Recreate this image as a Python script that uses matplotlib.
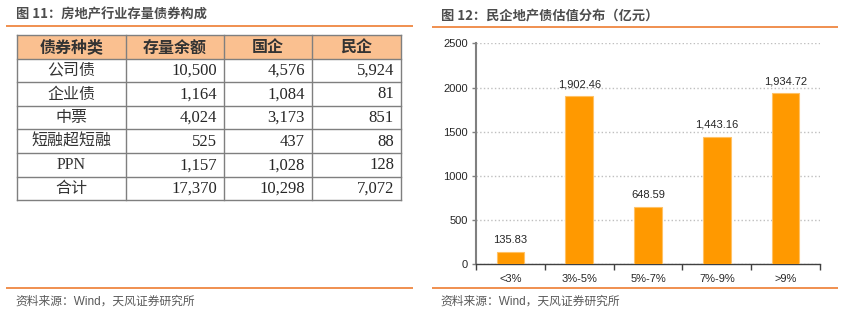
import matplotlib.pyplot as plt
from matplotlib.patches import Rectangle

# table data (left panel)
table_header = ['债券种类', '存量余额', '国企', '民企']
bond_types = ['公司债', '企业债', '中票', '短融超短融', 'PPN', '合计']
balance = ['10,500', '1,164', '4,024', '525', '1,157', '17,370']
soe = ['4,576', '1,084', '3,173', '437', '1,028', '10,298']
private = ['5,924', '81', '851', '88', '128', '7,072']

# bar data (right panel)
ranges = ['<3%', '3%-5%', '5%-7%', '7%-9%', '>9%']
values = [135.83, 1902.46, 648.59, 1443.16, 1934.72]

orange_line = '#ED7D31'
title_col = '#4D4D4D'
cjk = ['Noto Sans CJK SC']
serif_mix = ['Liberation Serif', 'Noto Sans CJK SC']
sans_mix = ['Liberation Sans', 'Noto Sans CJK SC']

W, H = 845, 313
fig = plt.figure(figsize=(W / 100, H / 100), dpi=100)

# background axes in pixel coords for titles, lines and the table
bg = fig.add_axes([0, 0, 1, 1])
bg.set_xlim(0, W)
bg.set_ylim(H, 0)
bg.axis('off')

bg.text(16, 14, '图 11：房地产行业存量债券构成', family=cjk, weight='bold',
        fontsize=9.5, color=title_col, va='center', ha='left')
bg.text(441, 15, '图 12：民企地产债估值分布（亿元）', family=cjk, weight='bold',
        fontsize=9.5, color=title_col, va='center', ha='left')
for x0, x1, y in [(6, 413, 26), (432, 838, 27), (6, 413, 288), (432, 838, 288)]:
    bg.plot([x0, x1], [y, y], color=orange_line, lw=1.2, solid_capstyle='butt')
for x in (15, 440):
    bg.text(x, 302, '资料来源：Wind，天风证券研究所', family=sans_mix,
            fontsize=8.5, color='#595959', va='center', ha='left')

# table
col_edges = [17, 126, 224, 312, 401]
top, row_h = 35, 23.6
n_rows = len(bond_types) + 1
grid_col = '#7F7F7F'

for j in range(4):
    bg.add_patch(Rectangle((col_edges[j], top), col_edges[j + 1] - col_edges[j], row_h,
                           facecolor='#FAC090', edgecolor='none'))
    bg.text((col_edges[j] + col_edges[j + 1]) / 2, top + row_h / 2 + 0.5, table_header[j],
            family=cjk, weight='bold', fontsize=11.5, color='#333333',
            ha='center', va='center')

columns = [balance, soe, private]
for i, name in enumerate(bond_types):
    yc = top + row_h * (i + 1.5) + 0.5
    bg.text((col_edges[0] + col_edges[1]) / 2, yc, name, family=serif_mix,
            fontsize=11.5, color='#333333', ha='center', va='center')
    for j, col in enumerate(columns):
        bg.text(col_edges[j + 2] - 7, yc, col[i], family=serif_mix,
                fontsize=12, color='#262626', ha='right', va='center')

for i in range(n_rows + 1):
    y = top + row_h * i
    bg.plot([col_edges[0], col_edges[-1]], [y, y], color=grid_col, lw=1)
for x in col_edges:
    bg.plot([x, x], [top, top + row_h * n_rows], color=grid_col, lw=1)

# bar chart
ax = fig.add_axes([476 / W, (H - 264.3) / H, (820 - 476) / W, (264.3 - 43.3) / H])
ax.set_facecolor('none')
xs = range(len(ranges))
ax.bar(xs, values, width=0.4, color='#FF9900', edgecolor='#FFC266', linewidth=0.8, zorder=3)
for x, v in zip(xs, values):
    ax.annotate(f'{v:,.2f}', (x, v), xytext=(0, 8.5), textcoords='offset points',
                ha='center', va='center', fontsize=8, family=sans_mix, color='#262626')

ax.set_xlim(-0.5, len(ranges) - 0.5)
ax.set_ylim(0, 2500)
ax.set_yticks(range(0, 2501, 500))
ax.yaxis.grid(True, linestyle=':', color='#BFBFBF', lw=1)
ax.set_axisbelow(True)
ax.set_xticks(list(xs))
ax.set_xticklabels(ranges)
ax.set_xticks([k - 0.5 for k in range(len(ranges) + 1)], minor=True)
ax.tick_params(axis='x', which='major', length=0, pad=7, labelsize=8, labelcolor='#262626')
ax.tick_params(axis='x', which='minor', length=4, width=1, color='#404040')
ax.tick_params(axis='y', length=3, width=1, color='#808080', labelsize=8,
               labelcolor='#262626', pad=3)
for lab in ax.get_xticklabels() + ax.get_yticklabels():
    lab.set_family(sans_mix)
for s in ('top', 'right'):
    ax.spines[s].set_visible(False)
ax.spines['left'].set_color('#808080')
ax.spines['left'].set_linewidth(1.5)
ax.spines['bottom'].set_color('#404040')
ax.spines['bottom'].set_linewidth(1)

fig.savefig('out.png', dpi=100)
